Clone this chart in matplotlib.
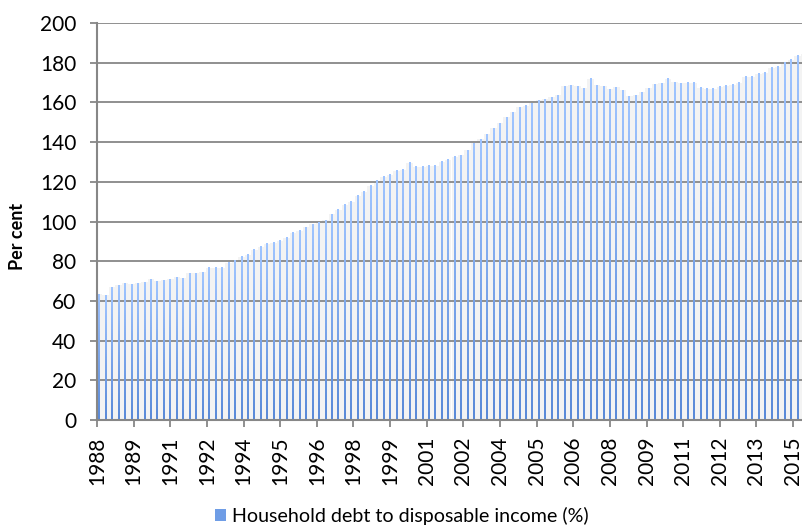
import numpy as np
import matplotlib.pyplot as plt
from matplotlib.patches import Patch
from matplotlib.colors import LinearSegmentedColormap

plt.rcParams['font.family'] = ['Lato', 'DejaVu Sans']

# quarterly, Jun 1988 .. Sep 2015 (per cent)
debt_ratio = [
    63.4, 62.9, 67.0, 68.0, 69.0, 68.5, 69.0, 69.5, 71.0, 70.0,
    70.5, 71.0, 72.0, 71.5, 74.0, 74.0, 74.5, 76.6, 76.6, 76.6,
    79.1, 80.2, 82.2, 83.2, 85.8, 87.2, 88.7, 89.2, 90.2, 91.8,
    94.3, 95.3, 97.1, 98.7, 99.5, 100.7, 103.7, 106.0, 108.5, 110.0,
    113.0, 115.0, 118.0, 120.5, 122.5, 123.5, 125.5, 126.1, 129.6, 127.6,
    127.6, 128.1, 128.1, 130.1, 131.1, 132.5, 133.5, 136.0, 139.5, 141.5,
    144.0, 147.1, 149.6, 152.6, 155.1, 157.6, 158.2, 159.5, 161.2, 161.7,
    162.7, 163.7, 168.2, 168.7, 168.2, 167.2, 171.8, 168.7, 168.2, 166.7,
    167.7, 166.2, 163.2, 163.7, 165.2, 167.2, 169.2, 169.7, 171.8, 170.2,
    169.7, 169.8, 169.9, 167.4, 166.9, 166.9, 167.9, 168.4, 168.9, 169.9,
    172.9, 172.9, 174.5, 175.0, 177.5, 178.0, 180.0, 181.5, 183.5, 184.5,
]
tick_labels = ['1988', '1989', '1991', '1992', '1994', '1995', '1996', '1998',
               '1999', '2001', '2002', '2004', '2005', '2006', '2008', '2009',
               '2011', '2012', '2013', '2015']
series_name = 'Household debt to disposable income (%)'

# date axis in months from Jun 1988, labels every 17 months
months = 3 * np.arange(len(debt_ratio)) + 1.0
tick_pos = 17 * np.arange(len(tick_labels))

grey = '#878787'
blue_cmap = LinearSegmentedColormap.from_list('blu', ['#5a8ad8', '#9fc4ff'])
grad = np.linspace(0, 1, 64).reshape(-1, 1)[::-1]

fig = plt.figure(figsize=(8.03, 5.29), dpi=100)
ax = fig.add_axes([97 / 803, 1 - 420 / 529, 709 / 803, 397 / 529])

# pale backing of each quarter, then the thin gradient bars
ax.bar(months, debt_ratio, width=3.0, color='#f3f3f3', zorder=0.3)
for x, v in zip(months, debt_ratio):
    ax.imshow(grad, extent=(x - 0.4, x + 0.4, 0, v), aspect='auto',
              cmap=blue_cmap, zorder=2, interpolation='nearest')

ax.set_xlim(0, 329)
ax.set_ylim(0, 200)
ax.set_yticks(range(0, 201, 20))
ax.set_xticks(tick_pos, tick_labels, rotation=90)
ax.set_axisbelow(True)
ax.yaxis.grid(True, color=grey, linewidth=1.3)

for s in ['top', 'right']:
    ax.spines[s].set_visible(False)
for s in ['left', 'bottom']:
    ax.spines[s].set_color(grey)
    ax.spines[s].set_linewidth(1.5)

ax.tick_params(axis='y', colors=grey, labelcolor='black', length=5, width=1.3,
               pad=10, labelsize=15)
ax.tick_params(axis='x', colors=grey, labelcolor='black', length=5, width=1.3,
               pad=7, labelsize=15)

fig.text(18 / 803, 1 - 236 / 529, 'Per cent', rotation=90, fontsize=13,
         fontweight='bold', ha='center', va='center')

handle = Patch(facecolor='#6f9de6', edgecolor='none')
fig.legend([handle], [series_name], loc='center', bbox_to_anchor=(0.5, 0.025),
           frameon=False, fontsize=14.1, handlelength=0.55, handleheight=0.6,
           handletextpad=0.3)

fig.savefig('out.png', dpi=100)
